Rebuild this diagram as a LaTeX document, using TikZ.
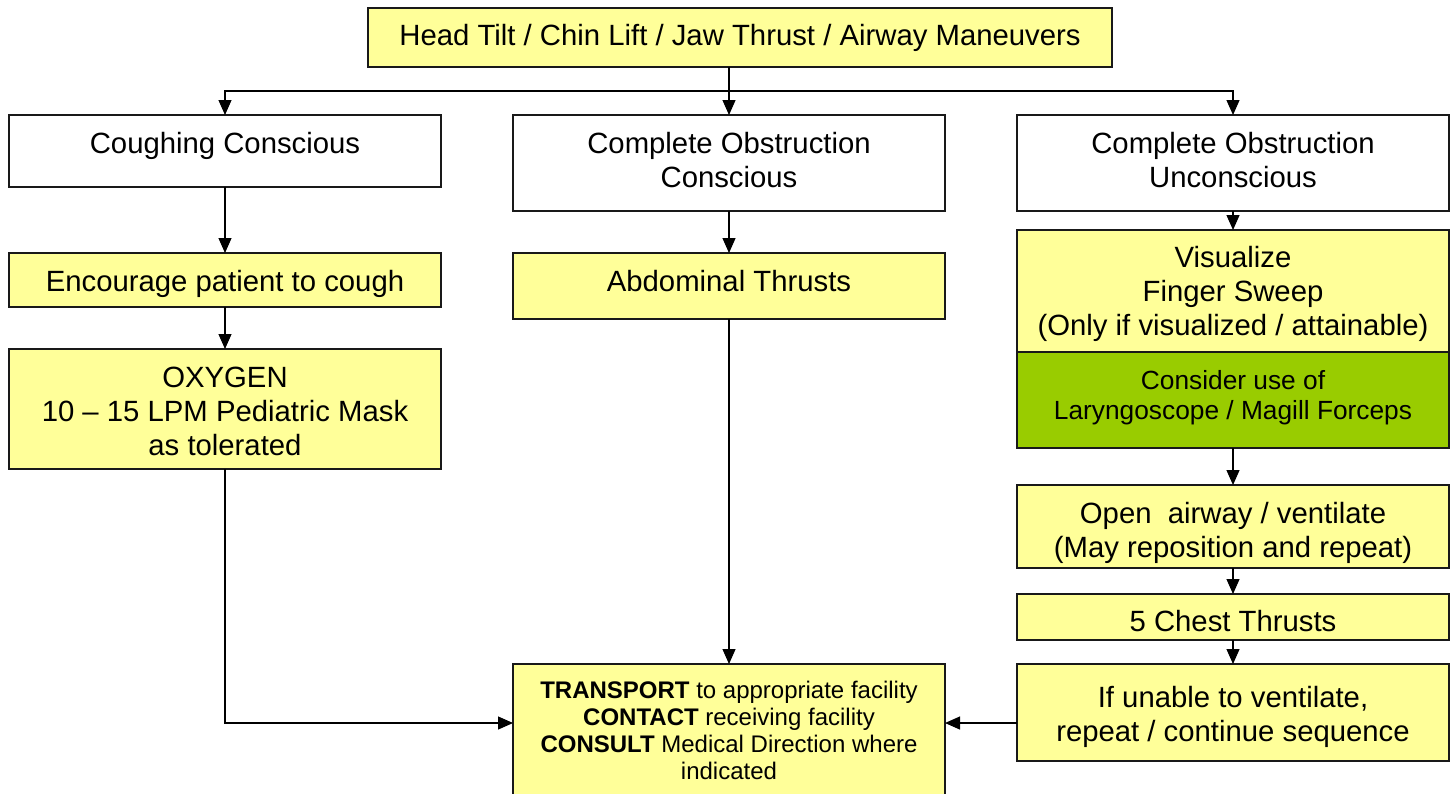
\documentclass[tikz,border=0pt]{standalone}
\usepackage{fontspec}
\setmainfont{Liberation Sans}
\usetikzlibrary{arrows.meta,calc}
\definecolor{boxyellow}{HTML}{FFFF99}
\definecolor{boxgreen}{HTML}{99CC00}
\tikzset{
  box/.style={draw=black!90, line width=1.2pt, inner sep=0pt, outer sep=0pt},
  txt/.style={inner sep=0pt, align=center, font=\fontsize{29.3}{34}\selectfont},
  smalltxt/.style={font=\fontsize{24}{27}\selectfont},
  greentxt/.style={font=\fontsize{26.3}{30}\selectfont},
  arr/.style={line width=1.2pt, -{Triangle[length=15pt,width=13pt]}},
}
\newcommand\bx[6]{%
  \node[box, fill=#6, minimum width=#4pt-#2pt, minimum height=#5pt-#3pt] (#1) at ({(#2+#4)/2},{(#3+#5)/2}) {};}
\newcommand\tx[4]{%
  \node[txt,#2,anchor=north] (#1t) at (#1.north) {\rule{0pt}{#3pt}#4};}
\begin{document}
\begin{tikzpicture}[x=1pt,y=-1pt]
\useasboundingbox (0,0) rectangle (1455,793);
\clip (0,0) rectangle (1455,793);
\fill[white] (0,0) rectangle (1455,793);

\bx{top}{368}{8}{1112}{67}{boxyellow}
\tx{top}{}{37.5}{Head Tilt / Chin Lift / Jaw Thrust / Airway Maneuvers}

\bx{cough}{9}{115}{441}{187}{white}
\tx{cough}{}{38.5}{Coughing Conscious}
\bx{cco}{513}{115}{945}{211}{white}
\tx{cco}{}{38.5}{Complete Obstruction\\Conscious}
\bx{cou}{1017}{115}{1449}{211}{white}
\tx{cou}{}{38.5}{Complete Obstruction\\Unconscious}

\bx{enc}{9}{253}{441}{307}{boxyellow}
\tx{enc}{}{38.5}{Encourage patient to cough}
\bx{ox}{9}{349}{441}{469}{boxyellow}
\tx{ox}{}{38.5}{OXYGEN\\10 -- 15 LPM Pediatric Mask\\as tolerated}

\bx{abd}{513}{253}{945}{319}{boxyellow}
\tx{abd}{}{38.5}{Abdominal Thrusts}

\bx{vis}{1017}{230}{1449}{352}{boxyellow}
\tx{vis}{}{37.5}{Visualize\\Finger Sweep\\(Only if visualized / attainable)}
\bx{mag}{1017}{352}{1449}{448}{boxgreen}
\tx{mag}{greentxt}{37}{Consider use of\\Laryngoscope / Magill Forceps}
\bx{open}{1017}{485}{1449}{568}{boxyellow}
\tx{open}{}{38.5}{Open~ airway / ventilate\\(May reposition and repeat)}
\bx{chest}{1017}{594}{1449}{640}{boxyellow}
\tx{chest}{}{37.5}{5 Chest Thrusts}
\bx{un}{1017}{664}{1449}{761}{boxyellow}
\tx{un}{}{43.5}{If unable to ventilate,\\repeat / continue sequence}

\bx{tr}{513}{664}{945}{800}{boxyellow}
\tx{tr}{smalltxt}{34}{\textbf{TRANSPORT} to appropriate facility\\\textbf{CONTACT} receiving facility\\\textbf{CONSULT} Medical Direction where\\indicated}

% connectors
\draw[arr] (cco.north |- top.south) -- (cco.north);
\coordinate (j) at ($(cco.north |- top.south)+(0,24)$);
\draw[arr] (j) -| (cough.north);
\draw[arr] (j) -| (cou.north);
\draw[arr] (cough.south) -- (enc.north);
\draw[arr] (enc.south) -- (ox.north);
\draw[arr] (cco.south) -- (abd.north);
\draw[arr] (abd.south) -- (tr.north);
\draw[arr] (cou.south) -- (vis.north);
\draw[arr] (mag.south) -- (open.north);
\draw[arr] (open.south) -- (chest.north);
\draw[arr] (chest.south) -- (un.north);
\coordinate (trl) at ($(tr.north west)+(0,59)$);
\coordinate (trr) at ($(tr.north east)+(0,59)$);
\coordinate (unl) at ($(un.north west)+(0,59)$);
\draw[arr] (ox.south) |- (trl);
\draw[arr] (unl) -- (trr);
\end{tikzpicture}
\end{document}
